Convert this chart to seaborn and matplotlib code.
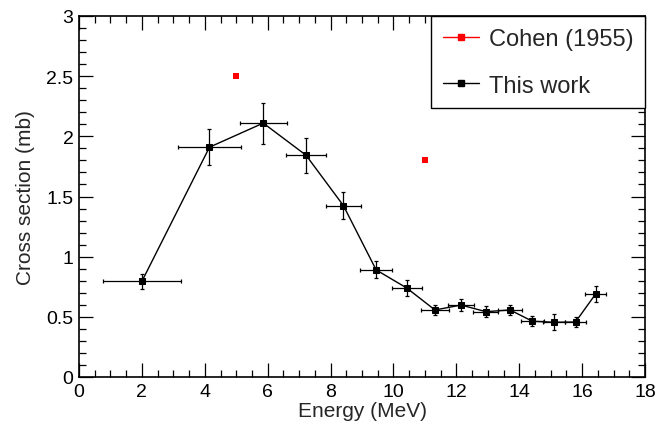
import numpy as np
import pandas as pd
import matplotlib
matplotlib.use("Agg")
import matplotlib.pyplot as plt
import seaborn as sns
from matplotlib.lines import Line2D
from matplotlib.ticker import MultipleLocator

# Data
energy = [2.0, 4.15, 5.86, 7.22, 8.41, 9.45, 10.42, 11.32, 12.15, 12.94, 13.71, 14.42, 15.12, 15.79, 16.43]
xs = [0.795, 1.91, 2.11, 1.843, 1.424, 0.89, 0.74, 0.557, 0.598, 0.543, 0.557, 0.463, 0.455, 0.457, 0.69]
energy_err = [1.23, 1.0, 0.75, 0.63, 0.56, 0.5, 0.48, 0.45, 0.42, 0.4, 0.39, 0.37, 0.35, 0.34, 0.33]
xs_err = [0.06, 0.15, 0.17, 0.145, 0.115, 0.07, 0.065, 0.045, 0.05, 0.045, 0.045, 0.04, 0.065, 0.04, 0.07]

cohen_energy = [5.0, 11.0]
cohen_xs = [2.5, 1.8]

labels = ["Cohen (1955)", "This work"]

sns.set_style("ticks")
plt.rcParams['font.family'] = ['Liberation Sans', 'DejaVu Sans']

fig = plt.figure(figsize=(6.56, 4.27), dpi=100)
ax = fig.add_axes([79/656, 1-378/427, (645-79)/656, (378-17)/427])

df = pd.DataFrame({"E": energy, "S": xs})
dfc = pd.DataFrame({"E": cohen_energy, "S": cohen_xs})

ax.errorbar(energy, xs, xerr=energy_err, yerr=xs_err, fmt='none', ecolor='black',
            elinewidth=0.9, capsize=1.6, capthick=0.9, zorder=2)
sns.lineplot(data=df, x="E", y="S", ax=ax, color='black', lw=1.0, marker='s',
             markersize=4.2, markeredgecolor='black', markerfacecolor='black', sort=False, zorder=3)
sns.scatterplot(data=dfc, x="E", y="S", ax=ax, color='red', marker='s', s=20,
                edgecolor='red', linewidth=0, zorder=3)

ax.set_xlim(0, 18)
ax.set_ylim(0, 3)
ax.xaxis.set_major_locator(MultipleLocator(2))
ax.xaxis.set_minor_locator(MultipleLocator(0.5))
ax.yaxis.set_major_locator(MultipleLocator(0.5))
ax.yaxis.set_minor_locator(MultipleLocator(0.1))
ax.yaxis.set_major_formatter(matplotlib.ticker.FuncFormatter(lambda v, p: f"{v:g}"))
ax.tick_params(which='both', direction='in', top=True, right=True, colors='black', width=0.9)
ax.tick_params(which='major', length=10, labelsize=14, pad=4)
ax.tick_params(which='minor', length=5)
for s in ax.spines.values():
    s.set_linewidth(1.2)
    s.set_color('black')

ax.set_xlabel("Energy (MeV)", fontsize=15, labelpad=1)
ax.set_ylabel("Cross section (mb)", fontsize=15, labelpad=8)

handles = [
    Line2D([0], [0], color='red', lw=1.0, marker='s', markersize=4, markerfacecolor='red', markeredgecolor='red'),
    Line2D([0], [0], color='black', lw=1.0, marker='s', markersize=4, markerfacecolor='black', markeredgecolor='black'),
]
leg = ax.legend(handles, labels, loc='upper right', bbox_to_anchor=(1, 1), borderaxespad=0,
                fontsize=17, frameon=True, fancybox=False, edgecolor='black', framealpha=1,
                handlelength=1.55, handletextpad=0.4, labelspacing=1.05, borderpad=0.5)
leg.get_frame().set_linewidth(1.0)

fig.savefig("out.png", dpi=100)
